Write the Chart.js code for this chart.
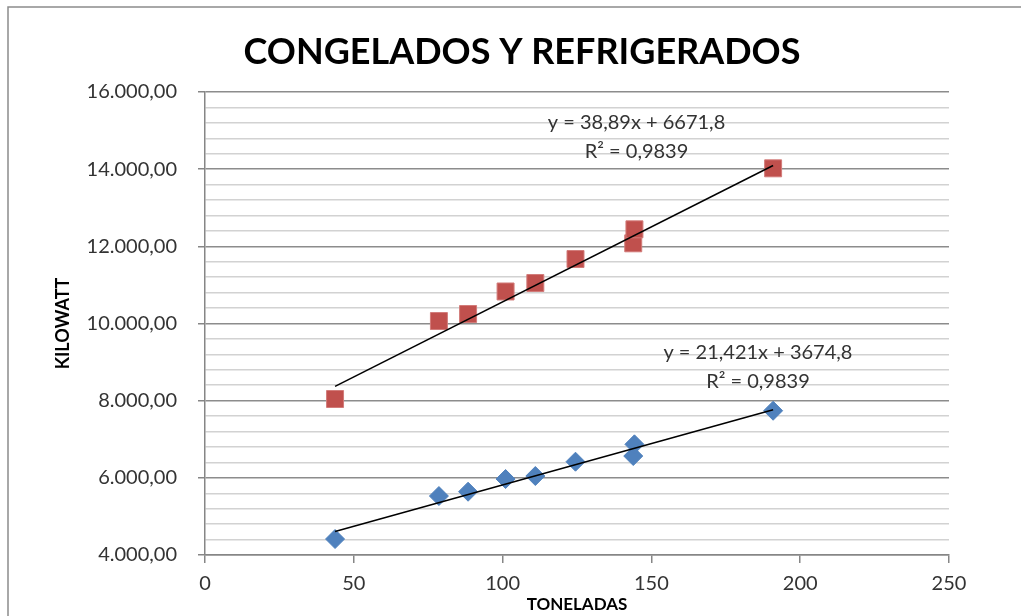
<!DOCTYPE html>
<html>
<head>
<meta charset="utf-8">
<script src="https://cdn.jsdelivr.net/npm/chart.js@4.4.0/dist/chart.umd.min.js"></script>
<style>
  body { margin: 0; background: #fff; }
  canvas { display: block; }
</style>
</head>
<body>
<canvas id="myChart" width="1021" height="616"></canvas>
<script>
// datos
var toneladas = [43.7, 78.6, 88.4, 101, 111, 124.5, 143.9, 144.3, 190.9];
var kwAzul = [4414, 5528, 5640, 5969, 6047, 6418, 6565, 6868, 7739];
var kwRojo = [8043, 10064, 10246, 10830, 11049, 11671, 12078, 12441, 14022];

// ecuaciones de tendencia mostradas en el grafico
var tendAzul = { m: 21.421, b: 3674.8, texto: ['y = 21,421x + 3674,8', 'R\u00b2 = 0,9839'] };
var tendRojo = { m: 38.89, b: 6671.8, texto: ['y = 38,89x + 6671,8', 'R\u00b2 = 0,9839'] };

var xTicks = [0, 50, 100, 150, 200, 250];
var yTicks = [4000, 6000, 8000, 10000, 12000, 14000, 16000];

function puntos(xs, ys) {
  return xs.map(function (x, i) { return { x: x, y: ys[i] }; });
}
function linea(t) {
  var x0 = Math.min.apply(null, toneladas), x1 = Math.max.apply(null, toneladas);
  return [{ x: x0, y: t.m * x0 + t.b }, { x: x1, y: t.m * x1 + t.b }];
}
function fmt(v) {
  var s = String(Math.round(v)).replace(/\B(?=(\d{3})+(?!\d))/g, '.');
  return s + ',00';
}

// posicion de las etiquetas (en valores de datos)
var etiquetas = [
  { t: tendRojo, x: 145, y: 15200 },
  { t: tendAzul, x: 185.8, y: 9260 }
];

var marco = {
  id: 'marco',
  beforeDraw: function (chart) {
    var c = chart.ctx;
    c.save();
    c.fillStyle = '#fff';
    c.fillRect(0, 0, chart.width, chart.height);
    c.strokeStyle = '#8c8c8c';
    c.lineWidth = 1.5;
    c.beginPath();
    c.moveTo(8, chart.height);
    c.lineTo(8, 7);
    c.lineTo(chart.width, 7);
    c.stroke();
    c.restore();
  },
  afterDatasetsDraw: function (chart) {
    var c = chart.ctx, sx = chart.scales.x, sy = chart.scales.y;
    c.save();
    c.font = '20px Lato';
    c.fillStyle = '#333';
    c.textAlign = 'center';
    c.textBaseline = 'middle';
    etiquetas.forEach(function (e) {
      var px = sx.getPixelForValue(e.x), py = sy.getPixelForValue(e.y);
      c.fillText(e.t.texto[0], px, py);
      c.fillText(e.t.texto[1], px, py + 29);
    });
    c.restore();
  }
};

var ctx = document.getElementById('myChart').getContext('2d');
var myChart = new Chart(ctx, {
  type: 'scatter',
  data: {
    datasets: [{
      data: linea(tendRojo),
      showLine: true,
      borderColor: '#000',
      borderWidth: 1.5,
      pointRadius: 0
    }, {
      data: linea(tendAzul),
      showLine: true,
      borderColor: '#000',
      borderWidth: 1.5,
      pointRadius: 0
    }, {
      data: puntos(toneladas, kwRojo),
      pointStyle: 'rect',
      pointRadius: 12,
      backgroundColor: '#C0504D',
      borderColor: '#D27B79',
      borderWidth: 1
    }, {
      data: puntos(toneladas, kwAzul),
      pointStyle: 'rectRot',
      pointRadius: 9.5,
      backgroundColor: '#4F81BD',
      borderColor: '#4F81BD',
      borderWidth: 1
    }]
  },
  options: {
    responsive: false,
    animation: false,
    layout: { padding: { left: 23, right: 0, top: 0, bottom: 0 } },
    plugins: {
      legend: { display: false },
      tooltip: { enabled: false },
      title: {
        display: true,
        text: 'CONGELADOS Y REFRIGERADOS',
        color: '#000',
        font: { family: 'Lato', size: 36, weight: 'bold', lineHeight: 1.2 },
        padding: { top: 31, bottom: 17.8 }
      }
    },
    scales: {
      x: {
        type: 'linear',
        min: 0,
        max: 250,
        afterFit: function (s) { s.height = 61; },
        afterBuildTicks: function (s) { s.ticks = xTicks.map(function (v) { return { value: v }; }); },
        ticks: { color: '#333', font: { family: 'Lato', size: 20 }, padding: 9, maxRotation: 0 },
        grid: { drawOnChartArea: false, tickLength: 8, color: '#868686', lineWidth: 1.5 },
        border: { color: '#868686', width: 1.5 },
        title: {
          display: true,
          text: 'TONELADAS',
          color: '#000',
          font: { family: 'Lato', size: 17, weight: 'bold' },
          padding: { top: 0, bottom: 1 }
        }
      },
      y: {
        min: 4000,
        max: 16000,
        afterFit: function (s) { s.width = 182; },
        ticks: {
          stepSize: 400,
          autoSkip: false,
          color: '#333',
          padding: 21,
          font: { family: 'Lato', size: 20 },
          callback: function (v) { return yTicks.indexOf(v) >= 0 ? fmt(v) : ''; }
        },
        grid: {
          tickLength: 7,
          lineWidth: 1.5,
          color: function (c) { return yTicks.indexOf(c.tick.value) >= 0 ? '#8c8c8c' : '#d2d2d2'; },
          tickColor: function (c) { return yTicks.indexOf(c.tick.value) >= 0 ? '#868686' : 'rgba(0,0,0,0)'; }
        },
        border: { color: '#868686', width: 1.5 },
        title: {
          display: true,
          text: 'KILOWATT',
          color: '#000',
          font: { family: 'Lato', size: 18, weight: 'bold' },
          padding: { top: 29, bottom: 0 }
        }
      },
      // eje vacio a la derecha para dejar el margen
      margen: {
        position: 'right',
        display: true,
        afterFit: function (s) { s.width = 72; },
        ticks: { display: false },
        grid: { display: false },
        border: { display: false }
      }
    }
  },
  plugins: [marco]
});
</script>
</body>
</html>
